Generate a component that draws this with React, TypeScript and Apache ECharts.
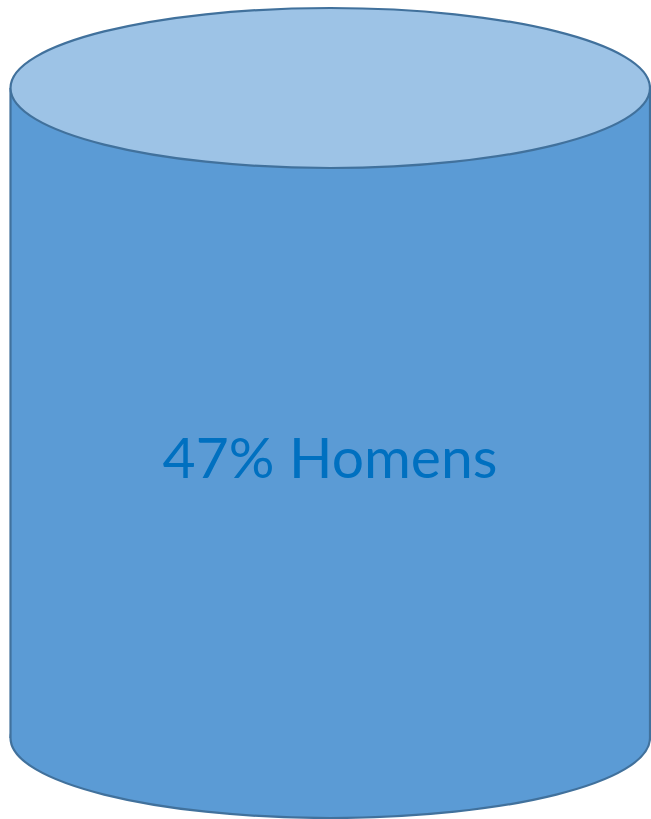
import React, { useEffect, useRef } from "react";
import * as echarts from "echarts";

const categories = ["Homens"];
const percentages = [47];

export default function App() {
  const ref = useRef<HTMLDivElement>(null);
  useEffect(() => {
    if (!ref.current) return;
    const chart = echarts.init(ref.current, null, { renderer: "svg" });
    const left = 10.5;
    const right = 650;
    const cx = (left + right) / 2;
    const rx = (right - left) / 2;
    const ry = 80;
    const topCy = 88;
    const botCy = 738;
    const stroke = "#41719c";
    const bodyFill = "#5b9bd5";
    const topFill = "#9dc3e6";
    const label = `${percentages[0]}% ${categories[0]}`;
    chart.setOption({
      animation: false,
      graphic: [
        {
          type: "ellipse",
          shape: { cx, cy: botCy, rx, ry },
          style: { fill: bodyFill, stroke, lineWidth: 2.2 },
        },
        {
          type: "rect",
          shape: { x: left, y: topCy, width: right - left, height: botCy - topCy },
          style: { fill: bodyFill },
        },
        {
          type: "line",
          shape: { x1: left, y1: topCy, x2: left, y2: botCy },
          style: { stroke, lineWidth: 2.2 },
        },
        {
          type: "line",
          shape: { x1: right, y1: topCy, x2: right, y2: botCy },
          style: { stroke, lineWidth: 2.2 },
        },
        {
          type: "ellipse",
          shape: { cx, cy: topCy, rx, ry },
          style: { fill: topFill, stroke, lineWidth: 2.2 },
        },
        {
          type: "text",
          x: 330,
          y: 456,
          style: {
            text: label,
            fill: "#0070c0",
            font: "57px Lato, 'Open Sans', sans-serif",
            align: "center",
            verticalAlign: "middle",
          },
        },
      ],
    });
    return () => chart.dispose();
  }, []);
  return (
    <div
      ref={ref}
      style={{ position: "fixed", left: 0, top: 0, width: 651, height: 819 }}
    />
  );
}
